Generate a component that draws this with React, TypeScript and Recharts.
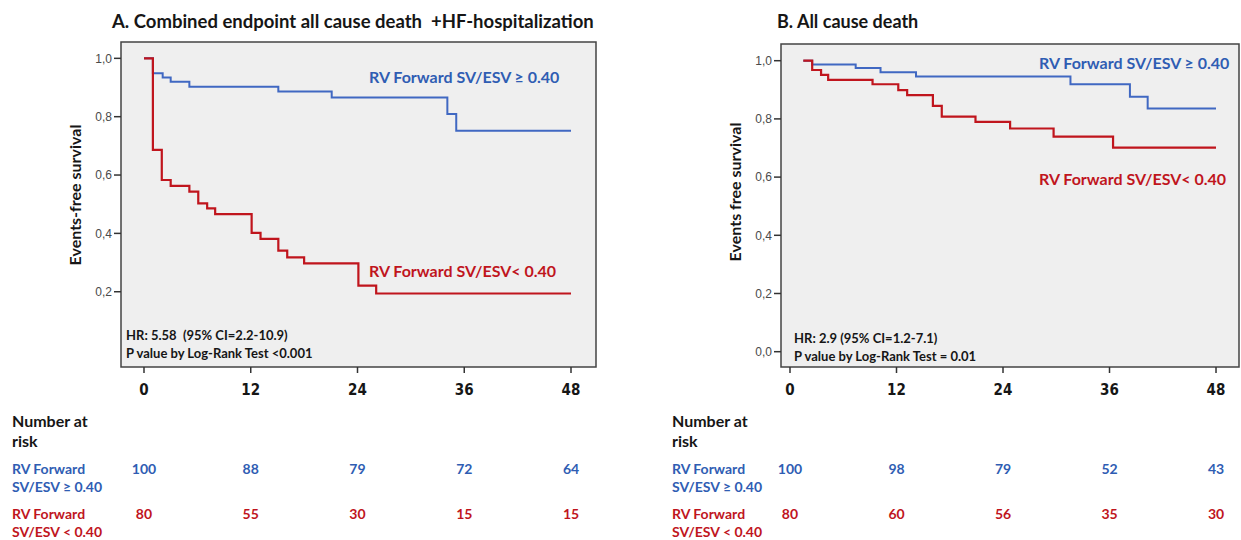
import React from "react";
import { LineChart, Line, XAxis, YAxis, ReferenceArea } from "recharts";

// follow-up months shown on both x axes and in the risk tables
const monthTicks = [0, 12, 24, 36, 48];
const survTicksA = [0.2, 0.4, 0.6, 0.8, 1.0];
const survTicksB = [0, 0.2, 0.4, 0.6, 0.8, 1.0];

// A. combined endpoint, RV Forward SV/ESV >= 0.40
const highATimes = [0, 1.0, 2.1, 3.0, 5.1, 15.1, 21.1, 34.1, 35.1, 48];
const highASurv = [1, 0.949, 0.934, 0.92, 0.903, 0.886, 0.866, 0.809, 0.752, 0.752];
// A. combined endpoint, RV Forward SV/ESV < 0.40
const lowATimes = [0, 1.0, 2.0, 3.0, 5.1, 6.1, 7.1, 8.0, 12.1, 13.1, 15.1, 16.1, 18.0, 24.1, 26.1, 48];
const lowASurv = [1, 0.686, 0.583, 0.563, 0.543, 0.503, 0.486, 0.466, 0.402, 0.381, 0.341, 0.318, 0.297, 0.221, 0.194, 0.194];

// B. all cause death
const highBTimes = [1.5, 2.5, 7.4, 10.2, 14.2, 31.6, 38.3, 40.3, 48];
const highBSurv = [1, 0.987, 0.975, 0.96, 0.946, 0.919, 0.876, 0.836, 0.836];
const lowBTimes = [1.5, 2.5, 3.5, 4.3, 9.3, 12.2, 13.2, 16.1, 17.1, 20.9, 24.8, 29.7, 36.4, 48];
const lowBSurv = [1, 0.968, 0.951, 0.934, 0.919, 0.899, 0.882, 0.845, 0.808, 0.79, 0.767, 0.739, 0.701, 0.701];

// number at risk
const riskHighA = [100, 88, 79, 72, 64];
const riskLowA = [80, 55, 30, 15, 15];
const riskHighB = [100, 98, 79, 52, 43];
const riskLowB = [80, 60, 56, 35, 30];

const BLUE_LINE = "#4068c2";
const BLUE = "#2f5db3";
const RED = "#c0151d";
const INK = "#161616";
const FONT = "Lato, 'Open Sans', sans-serif";
const NARROW = "'Liberation Sans Narrow', 'DejaVu Sans Condensed', 'Liberation Sans', sans-serif";

const zip = (t: number[], s: number[]) => t.map((x, i) => ({ t: x, s: s[i] }));

type TextProps = {
  x: number;
  y: number;
  size: number;
  color?: string;
  children: React.ReactNode;
};

function T({ x, y, size, color = INK, children }: TextProps) {
  return (
    <div
      style={{
        position: "absolute",
        left: x,
        top: y,
        transform: "translateY(-50%)",
        fontFamily: FONT,
        fontWeight: 700,
        fontSize: size,
        lineHeight: 1,
        color,
        whiteSpace: "nowrap",
      }}
    >
      {children}
    </div>
  );
}

function VLabel({ x, y, children }: { x: number; y: number; children: React.ReactNode }) {
  return (
    <div
      style={{
        position: "absolute",
        left: x,
        top: y,
        transform: "translate(-50%, -50%) rotate(-90deg)",
        fontFamily: FONT,
        fontWeight: 700,
        fontSize: 16,
        lineHeight: 1,
        color: INK,
        whiteSpace: "nowrap",
      }}
    >
      {children}
    </div>
  );
}

// month label plus the two number-at-risk rows, all placed on the axis scale
function makeTick(riskHigh: number[], riskLow: number[]) {
  return function MonthTick(props: any) {
    const { x, y, payload } = props;
    const i = monthTicks.indexOf(payload.value);
    return (
      <g>
        <text x={x} y={y + 10.5} textAnchor="middle" fontSize={15} fontWeight={700} fill={INK} fontFamily={NARROW}>
          {payload.value}
        </text>
        <text x={x} y={y + 90} textAnchor="middle" fontSize={14} fontWeight={700} fill={BLUE} fontFamily={FONT}>
          {riskHigh[i]}
        </text>
        <text x={x} y={y + 135} textAnchor="middle" fontSize={14} fontWeight={700} fill={RED} fontFamily={FONT}>
          {riskLow[i]}
        </text>
      </g>
    );
  };
}

type PanelProps = {
  width: number;
  yAxisWidth: number;
  marginTop: number;
  marginRight: number;
  xDomain: [number, number];
  yDomain: [number, number];
  yTicks: number[];
  high: { t: number; s: number }[];
  low: { t: number; s: number }[];
  riskHigh: number[];
  riskLow: number[];
};

function Panel(p: PanelProps) {
  const Tick = makeTick(p.riskHigh, p.riskLow);
  return (
    <LineChart
      width={p.width}
      height={540}
      margin={{ top: p.marginTop, right: p.marginRight, bottom: 11, left: 0 }}
    >
      <ReferenceArea
        x1={p.xDomain[0]}
        x2={p.xDomain[1]}
        y1={p.yDomain[0]}
        y2={p.yDomain[1]}
        fill="#efefef"
        fillOpacity={1}
        stroke="#444"
        strokeWidth={1.5}
        ifOverflow="visible"
      />
      <XAxis
        dataKey="t"
        type="number"
        domain={p.xDomain}
        allowDataOverflow
        ticks={monthTicks}
        interval={0}
        axisLine={false}
        tickLine={{ stroke: "#333", strokeWidth: 1.5 }}
        tickSize={6}
        tickMargin={11}
        height={162}
        tick={<Tick />}
      />
      <YAxis
        type="number"
        domain={p.yDomain}
        allowDataOverflow
        ticks={p.yTicks}
        interval={0}
        width={p.yAxisWidth}
        axisLine={false}
        tickLine={{ stroke: "#333", strokeWidth: 1.5 }}
        tickSize={7}
        tickMargin={2}
        tickFormatter={(v: number) => v.toFixed(1).replace(".", ",")}
        tick={{ fontSize: 12, fill: "#4a4a4a", fontFamily: "'Liberation Sans', Arial, sans-serif" }}
      />
      <Line
        data={p.high}
        dataKey="s"
        type="stepAfter"
        stroke={BLUE_LINE}
        strokeWidth={2}
        dot={false}
        isAnimationActive={false}
      />
      <Line
        data={p.low}
        dataKey="s"
        type="stepAfter"
        stroke={RED}
        strokeWidth={2.2}
        dot={false}
        isAnimationActive={false}
      />
    </LineChart>
  );
}

function RiskLabels({ x }: { x: number }) {
  return (
    <>
      <T x={x} y={421} size={16}>Number at</T>
      <T x={x} y={441} size={16}>risk</T>
      <T x={x} y={469} size={14} color={BLUE}>RV Forward</T>
      <T x={x} y={487} size={14} color={BLUE}>SV/ESV ≥ 0.40</T>
      <T x={x} y={514} size={14} color={RED}>RV Forward</T>
      <T x={x} y={532} size={14} color={RED}>SV/ESV &lt; 0.40</T>
    </>
  );
}

export default function App() {
  return (
    <div
      style={{
        position: "absolute",
        left: 0,
        top: 0,
        width: 1241,
        height: 540,
        background: "#fff",
        overflow: "hidden",
      }}
    >
      <div style={{ position: "absolute", left: 0, top: 0 }}>
        <Panel
          width={620}
          yAxisWidth={121}
          marginTop={42}
          marginRight={24}
          xDomain={[-2.585, 50.81]}
          yDomain={[-0.058, 1.056]}
          yTicks={survTicksA}
          high={zip(highATimes, highASurv)}
          low={zip(lowATimes, lowASurv)}
          riskHigh={riskHighA}
          riskLow={riskLowA}
        />
      </div>
      <div style={{ position: "absolute", left: 620, top: 0 }}>
        <Panel
          width={621}
          yAxisWidth={161}
          marginTop={44}
          marginRight={2}
          xDomain={[-1.014, 50.59]}
          yDomain={[-0.0526, 1.0574]}
          yTicks={survTicksB}
          high={zip(highBTimes, highBSurv)}
          low={zip(lowBTimes, lowBSurv)}
          riskHigh={riskHighB}
          riskLow={riskLowB}
        />
      </div>

      <T x={112} y={21} size={18.5}>A. Combined endpoint all cause death&nbsp; +HF-hospitalization</T>
      <T x={777} y={21} size={18}>B. All cause death</T>

      <VLabel x={75} y={195}>Events-free survival</VLabel>
      <VLabel x={735} y={192}>Events free survival</VLabel>

      <T x={369} y={77} size={16} color={BLUE}>RV Forward SV/ESV ≥ 0.40</T>
      <T x={369} y={271} size={16} color={RED}>RV Forward SV/ESV&lt; 0.40</T>
      <T x={1039} y={63} size={16} color={BLUE}>RV Forward SV/ESV ≥ 0.40</T>
      <T x={1039} y={179} size={16} color={RED}>RV Forward SV/ESV&lt; 0.40</T>

      <T x={126} y={335} size={13}>HR: 5.58&nbsp; (95% CI=2.2-10.9)</T>
      <T x={126} y={353} size={13}>P value by Log-Rank Test &lt;0.001</T>
      <T x={794} y={338} size={13}>HR: 2.9 (95% CI=1.2-7.1)</T>
      <T x={794} y={356} size={13}>P value by Log-Rank Test = 0.01</T>

      <RiskLabels x={12} />
      <RiskLabels x={672} />
    </div>
  );
}
